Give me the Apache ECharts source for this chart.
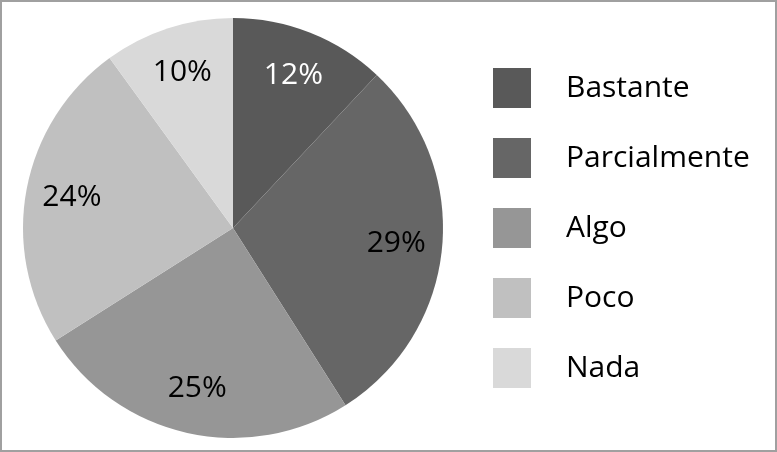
<!DOCTYPE html>
<html><head><meta charset="utf-8">
<script src="https://cdn.jsdelivr.net/npm/echarts@6/dist/echarts.min.js"></script>
<style>html,body{margin:0;padding:0;background:#fff}#c{width:777px;height:452px;box-sizing:border-box;border:2px solid #a0a0a0}</style>
</head><body><div id="c"></div>
<script>
const categories = ['Bastante', 'Parcialmente', 'Algo', 'Poco', 'Nada'];
const values = [12, 29, 25, 24, 10];
const colors = ['#595959', '#666666', '#969696', '#c0c0c0', '#d9d9d9'];
const labelColors = ['#ffffff', '#000000', '#000000', '#000000', '#000000'];

const chart = echarts.init(document.getElementById('c'), null, {renderer: 'canvas'});
const font = '"Open Sans", "Noto Sans", sans-serif';
const data = categories.map((n, i) => ({name: n, value: values[i], itemStyle: {color: colors[i]}}));
const labelData = categories.map((n, i) => ({name: n, value: values[i],
  label: {color: labelColors[i]}}));
chart.setOption({
  animation: false,
  legend: {
    orient: 'vertical', left: 486, top: 61,
    itemWidth: 38, itemHeight: 40, itemGap: 30,
    icon: 'rect',
    textStyle: {fontFamily: font, fontSize: 30, color: '#000', padding: [0,0,0,30]},
    data: categories
  },
  series: [
    {type: 'pie', center: [231, 226], radius: 210, startAngle: 90, clockwise: true,
     label: {show: false}, labelLine: {show: false}, silent: true,
     itemStyle: {borderWidth: 0}, data: data},
    {type: 'pie', center: [231, 226], radius: [112, 210], startAngle: 90, clockwise: true,
     silent: true, itemStyle: {color: 'rgba(0,0,0,0)'}, labelLine: {show: false},
     label: {show: true, position: 'inside', formatter: '{c}%', fontFamily: font, fontSize: 30},
     data: labelData}
  ]
});
</script></body></html>
